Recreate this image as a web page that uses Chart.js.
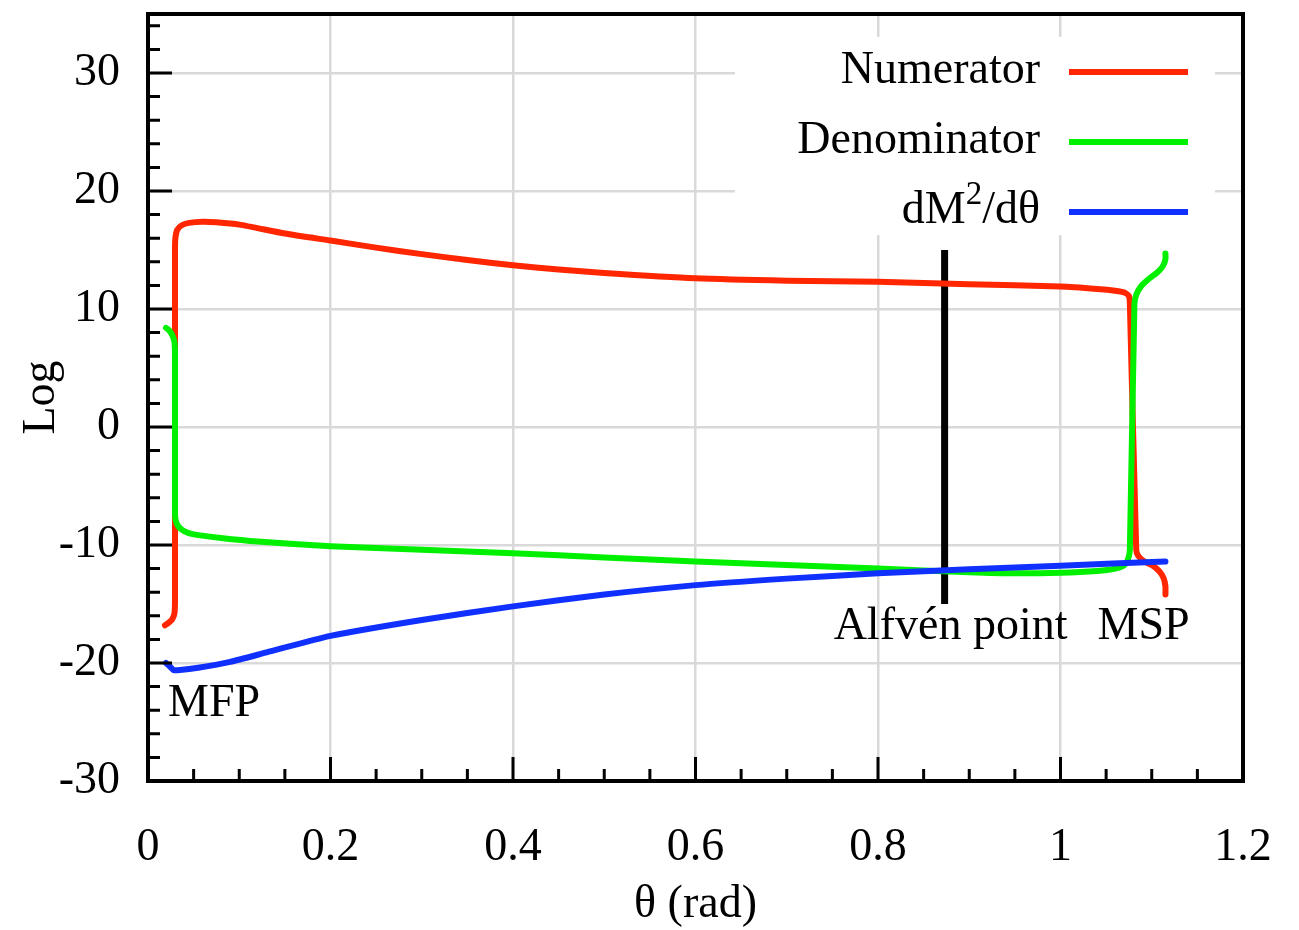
<!DOCTYPE html>
<html>
<head>
<meta charset="utf-8">
<title>Numerator, denominator and dM²/dθ</title>
<script src="https://cdn.jsdelivr.net/npm/chart.js@4.4.1/dist/chart.umd.min.js"></script>
<style>
  html, body { margin: 0; padding: 0; background: #fff; }
  canvas { display: block; }
</style>
</head>
<body>
<canvas id="logChart" width="1299" height="930"></canvas>
<script>
// theta (rad) / log value pairs for each curve
const numTheta = [0.0186, 0.0225, 0.0265, 0.0290, 0.0296, 0.0296, 0.0300, 0.0320, 0.0370, 0.0450,
  0.0600, 0.0750, 0.1000, 0.1500, 0.2000, 0.2500, 0.3000, 0.3500, 0.4000, 0.4500,
  0.5000, 0.6000, 0.7000, 0.8000, 0.9000, 1.0000, 1.0400, 1.0600, 1.0700, 1.0750,
  1.0760, 1.0830, 1.0850, 1.0920, 1.1000, 1.1080, 1.1130, 1.1150, 1.1150];
const numLog = [-16.8, -16.6, -16.3, -15.8, -14.5, 15.0, 16.0, 16.7, 17.1, 17.3,
  17.4, 17.35, 17.15, 16.4, 15.8, 15.2, 14.65, 14.15, 13.7, 13.35,
  13.05, 12.6, 12.4, 12.3, 12.1, 11.9, 11.7, 11.55, 11.4, 11.1,
  10.5, -10.4, -10.9, -11.4, -11.7, -12.2, -12.8, -13.5, -14.2];

const denTheta = [0.0197, 0.0230, 0.0265, 0.0290, 0.0296, 0.0296, 0.0300, 0.0330, 0.0400, 0.0500,
  0.0800, 0.1200, 0.2000, 0.3000, 0.4000, 0.5000, 0.6000, 0.7000, 0.8000, 0.9000,
  0.9500, 1.0000, 1.0400, 1.0600, 1.0700, 1.0740, 1.0760, 1.0810, 1.0830, 1.0880,
  1.0960, 1.1060, 1.1120, 1.1150, 1.1150];
const denLog = [8.4, 8.2, 7.8, 7.2, 6.0, -7.0, -7.8, -8.4, -8.85, -9.1,
  -9.4, -9.7, -10.1, -10.4, -10.7, -11.05, -11.4, -11.7, -12.0, -12.3,
  -12.4, -12.35, -12.2, -12.0, -11.7, -11.2, -10.4, 10.4, 11.2, 11.9,
  12.5, 13.1, 13.6, 14.2, 14.7];

const slopeTheta = [0.0197, 0.0240, 0.0280, 0.0350, 0.0550, 0.0900, 0.1300, 0.2000, 0.3000, 0.4000,
  0.5000, 0.6000, 0.7000, 0.8000, 0.9000, 1.0000, 1.1150];
const slopeLog = [-20.0, -20.3, -20.6, -20.6, -20.4, -19.9, -19.1, -17.7, -16.35, -15.2,
  -14.2, -13.4, -12.85, -12.4, -12.05, -11.75, -11.4];

// vertical marker at the Alfvén point
const alfvenTheta = [0.873, 0.873];
const alfvenLog = [15, -15];

const seriesLabels = ['Numerator', 'Denominator', 'dM^2/dθ'];
const xTicks = [0, 0.2, 0.4, 0.6, 0.8, 1, 1.2];
const yTicks = [-30, -20, -10, 0, 10, 20, 30];

const pairs = (xs, ys) => xs.map((x, i) => ({ x: x, y: ys[i] }));

const FONT = "'Liberation Serif', 'Times New Roman', serif";
Chart.defaults.font.family = FONT;
Chart.defaults.color = '#000';

function curve(label, xs, ys, color, order) {
  return {
    label: label,
    data: pairs(xs, ys),
    showLine: true,
    borderColor: color,
    backgroundColor: color,
    borderWidth: 6,
    borderCapStyle: 'round',
    borderJoinStyle: 'round',
    pointRadius: 0,
    tension: 0.2,
    order: order
  };
}

// label text with "^x" turned into a superscript
function richParts(label) {
  const parts = [];
  label.split(/\^(.)/).forEach((t, i) => { if (t) parts.push({ t: t, sup: i % 2 === 1 }); });
  return parts;
}

function drawRich(ctx, label, xRight, baseline) {
  const parts = richParts(label);
  let total = 0;
  parts.forEach(p => {
    ctx.font = (p.sup ? '33px ' : '46px ') + FONT;
    p.w = ctx.measureText(p.t).width;
    total += p.w;
  });
  let x = xRight - total;
  ctx.textAlign = 'left';
  ctx.textBaseline = 'alphabetic';
  parts.forEach(p => {
    ctx.font = (p.sup ? '33px ' : '46px ') + FONT;
    ctx.fillText(p.t, x, p.sup ? baseline - 19 : baseline);
    x += p.w;
  });
}

// keep the plot box exactly where the layout padding puts it
function fixBox(size) {
  return s => {
    if (s.isHorizontal()) s.height = size; else s.width = size;
    s.paddingTop = 0;
    s.paddingBottom = 0;
    s.paddingLeft = 0;
    s.paddingRight = 0;
  };
}

const framePlugin = {
  id: 'frame',
  afterDraw(chart) {
    const { ctx, chartArea: a, scales: { x, y } } = chart;
    ctx.save();

    // inward ticks on the left and bottom axes
    ctx.strokeStyle = '#000';
    ctx.lineWidth = 3;
    ctx.beginPath();
    for (let i = -15; i <= 17; i++) {
      const v = i * 2;
      const py = y.getPixelForValue(v);
      const len = v % 10 === 0 ? 24 : 12;
      ctx.moveTo(a.left, py);
      ctx.lineTo(a.left + len, py);
    }
    for (let i = 0; i <= 24; i++) {
      const px = x.getPixelForValue(i * 0.05);
      const len = i % 4 === 0 ? 24 : 12;
      ctx.moveTo(px, a.bottom);
      ctx.lineTo(px, a.bottom - len);
    }
    ctx.stroke();

    // plot frame
    ctx.lineWidth = 4;
    ctx.strokeRect(a.left, a.top, a.right - a.left, a.bottom - a.top);

    // legend: text on the left, line sample on the right
    const boxRight = a.right - 28;
    ctx.fillStyle = '#fff';
    ctx.fillRect(735, a.top + 23, boxRight - 735, 198);
    chart.data.datasets.forEach((ds, i) => {
      if (!ds.label) return;
      const rowY = y.getPixelForValue(30) - 1 + i * 70;
      ctx.fillStyle = '#000';
      drawRich(ctx, ds.label, boxRight - 175, rowY + 11);
      ctx.strokeStyle = ds.borderColor;
      ctx.lineWidth = 6;
      ctx.lineCap = 'butt';
      ctx.beginPath();
      ctx.moveTo(boxRight - 146, rowY);
      ctx.lineTo(boxRight - 27, rowY);
      ctx.stroke();
    });

    // point labels
    ctx.fillStyle = '#000';
    ctx.font = '46px ' + FONT;
    ctx.textBaseline = 'alphabetic';
    ctx.textAlign = 'center';
    ctx.fillText('Alfvén point', x.getPixelForValue(0.8795), y.getPixelForValue(-17.97));
    ctx.fillText('MSP', x.getPixelForValue(1.091), y.getPixelForValue(-17.97));
    ctx.textAlign = 'left';
    ctx.fillText('MFP', x.getPixelForValue(0.022), y.getPixelForValue(-24.5));

    ctx.restore();
  }
};

new Chart(document.getElementById('logChart'), {
  type: 'scatter',
  data: {
    datasets: [
      curve(seriesLabels[0], numTheta, numLog, '#ff2600', 3),
      curve(seriesLabels[1], denTheta, denLog, '#00f000', 2),
      curve(seriesLabels[2], slopeTheta, slopeLog, '#1030ff', 1),
      {
        label: '',
        data: pairs(alfvenTheta, alfvenLog),
        showLine: true,
        borderColor: '#000',
        borderWidth: 7,
        pointRadius: 0,
        order: 4
      }
    ]
  },
  options: {
    responsive: false,
    animation: false,
    devicePixelRatio: 1,
    layout: { padding: { top: 14, right: 56, left: 0, bottom: 0 } },
    plugins: {
      legend: { display: false },
      tooltip: { enabled: false }
    },
    scales: {
      x: {
        type: 'linear',
        min: 0,
        max: 1.2,
        afterBuildTicks: s => { s.ticks = xTicks.map(v => ({ value: v })); },
        afterFit: fixBox(149),
        ticks: {
          padding: 39,
          maxRotation: 0,
          font: { size: 46 },
          color: '#000',
          callback: v => String(v)
        },
        grid: { color: '#d9d9d9', lineWidth: 2.5, drawTicks: false },
        border: { display: false },
        title: { display: true, text: 'θ (rad)', font: { size: 46 }, color: '#000', padding: { top: 0, bottom: -3 } }
      },
      y: {
        type: 'linear',
        min: -30,
        max: 35,
        afterBuildTicks: s => { s.ticks = yTicks.map(v => ({ value: v })); },
        afterFit: fixBox(148),
        ticks: {
          padding: 28,
          font: { size: 46 },
          color: '#000',
          callback: v => String(v)
        },
        grid: { color: '#d9d9d9', lineWidth: 2.5, drawTicks: false },
        border: { display: false },
        title: { display: true, text: 'Log', font: { size: 46 }, color: '#000', padding: { top: 14, bottom: 0 } }
      }
    }
  },
  plugins: [framePlugin]
});
</script>
</body>
</html>
